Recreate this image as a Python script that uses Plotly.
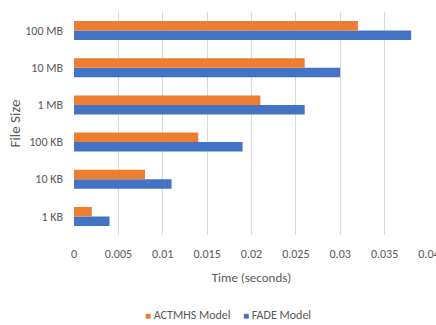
import plotly.graph_objects as go

file_sizes = ["1 KB", "10 KB", "100 KB", "1 MB", "10 MB", "100 MB"]
actmhs_time = [0.002, 0.008, 0.014, 0.021, 0.026, 0.032]
fade_time = [0.004, 0.011, 0.019, 0.026, 0.030, 0.038]
x_ticks = [0, 0.005, 0.01, 0.015, 0.02, 0.025, 0.03, 0.035, 0.04]
x_tick_text = ["0", "0.005", "0.01", "0.015", "0.02", "0.025", "0.03", "0.035", "0.04"]

ORANGE = "#ED7D31"
BLUE = "#4472C4"
TEXT = "#595959"
GRID = "#D9D9D9"
FONT = "Carlito, Calibri, 'Liberation Sans Narrow', 'Open Sans', sans-serif"

fig = go.Figure()
# FADE first so it sits below ACTMHS within each group
fig.add_trace(go.Bar(
    y=file_sizes, x=fade_time, orientation="h", name="FADE Model",
    marker=dict(color=BLUE, line=dict(width=0)), showlegend=False,
))
fig.add_trace(go.Bar(
    y=file_sizes, x=actmhs_time, orientation="h", name="ACTMHS Model",
    marker=dict(color=ORANGE, line=dict(width=0)), showlegend=False,
))

# compact legend row under the axis title
legend_items = [("ACTMHS Model", ORANGE, 0.1935), ("FADE Model", BLUE, 0.4696)]
for label, color, xpos in legend_items:
    fig.add_annotation(
        xref="paper", yref="paper", x=xpos, y=-0.359,
        xanchor="left", yanchor="middle", showarrow=False,
        text=f"<span style='color:{color};font-size:10px'>■</span> {label}",
        font=dict(size=12, color=TEXT, family=FONT),
    )

fig.update_layout(
    width=436, height=325,
    margin=dict(l=74, r=7, t=12, b=90),
    paper_bgcolor="white", plot_bgcolor="white",
    barmode="group", bargap=0.49, bargroupgap=0,
    font=dict(family=FONT, size=12, color=TEXT),
    xaxis=dict(
        range=[0, 0.04001], tickvals=x_ticks, ticktext=x_tick_text,
        showgrid=True, gridcolor=GRID, gridwidth=1, zeroline=False,
        showline=False, ticks="", ticklabelstandoff=10,
        ticklabeloverflow="allow", automargin=False,
        title=dict(text="Time (seconds)", font=dict(size=13, color=TEXT), standoff=12),
    ),
    yaxis=dict(
        categoryorder="array", categoryarray=file_sizes,
        showgrid=False, zeroline=False, showline=False, ticks="",
        ticklabelstandoff=10, automargin=False,
        title=dict(text="File Size", font=dict(size=15, color=TEXT), standoff=1),
    ),
)

fig.write_html("out.html")
